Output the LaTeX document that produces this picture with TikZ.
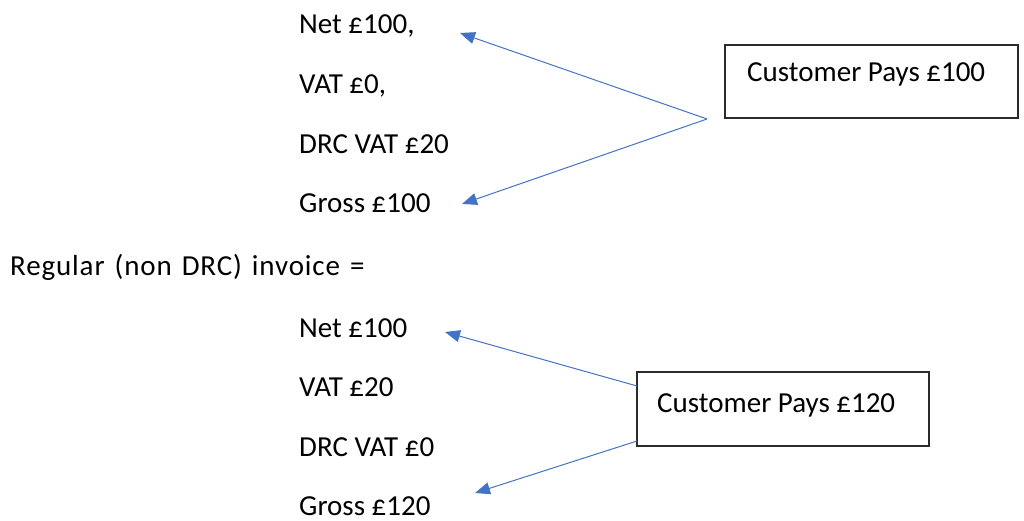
\documentclass[tikz,border=0pt]{standalone}
\usepackage{fontspec}
\setmainfont{Carlito}
\usetikzlibrary{arrows.meta}
\definecolor{linkblue}{HTML}{4472C4}
\definecolor{boxline}{HTML}{2B2B2B}
\tikzset{
  every node/.style={font=\fontsize{29}{34}\selectfont},
  line/.style={anchor=base west, inner sep=0pt},
  paybox/.style={draw=boxline, line width=1.3pt, inner sep=0pt},
  pointer/.style={draw=linkblue, line width=1pt,
    -{Triangle[length=15pt,width=12pt]}}
}
\begin{document}
\begin{tikzpicture}[x=1pt,y=-1pt]
\useasboundingbox (0,0) rectangle (1024,521);

% DRC invoice lines
\node[line] (net1)   at (299,34)  {Net £100,};
\node[line] (vat1)   at (299,94)  {VAT £0,};
\node[line] (drc1)   at (299,154) {DRC VAT £20};
\node[line] (gross1) at (299,213) {Gross £100};

\node[line] (regular) at (10,275)
  {\addfontfeature{LetterSpace=3}\spaceskip=10pt Regular (non DRC) invoice =};

% regular invoice lines
\node[line] (net2)   at (299,337) {Net £100};
\node[line] (vat2)   at (299,396) {VAT £20};
\node[line] (drc2)   at (299,456) {DRC VAT £0};
\node[line] (gross2) at (299,515) {Gross £120};

% payment boxes
\draw[paybox] (725,45) rectangle (1018,118);
\node[line] (pay1) at (747,82) {Customer Pays £100};
\draw[paybox] (637,372) rectangle (929,446);
\node[line] (pay2) at (657,412) {Customer Pays £120};

% arrow anchors
\coordinate (from1) at (707,119);
\coordinate (to1a)  at (460,33);
\coordinate (to1b)  at (462,204);
\coordinate (from2a) at (637,386);
\coordinate (from2b) at (637,441);
\coordinate (to2a)  at (445,332);
\coordinate (to2b)  at (475,493);

\draw[pointer] (from1) -- (to1a);
\draw[pointer] (from1) -- (to1b);
\draw[pointer] (from2a) -- (to2a);
\draw[pointer] (from2b) -- (to2b);
\end{tikzpicture}
\end{document}
